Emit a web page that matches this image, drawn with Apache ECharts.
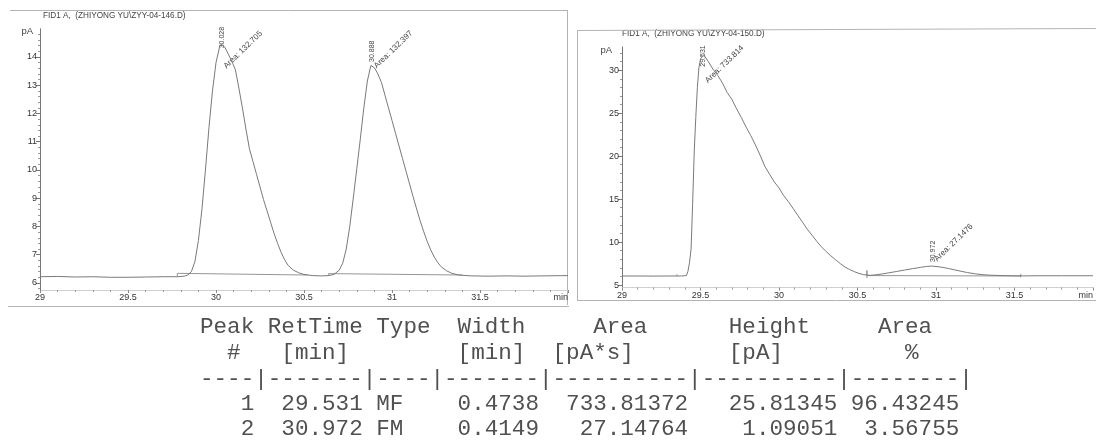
<!DOCTYPE html>
<html>
<head>
<meta charset="utf-8">
<script src="https://cdn.jsdelivr.net/npm/echarts@6/dist/echarts.min.js"></script>
<style>html,body{margin:0;padding:0;background:#fff;} #chart{width:1096px;height:442px;}</style>
</head>
<body>
<div id="chart"></div>
<script>
// ZYY-04-146.D  (racemic, two peaks)
var traceLeft = [[29.00,6.22],[29.10,6.23],[29.20,6.21],[29.30,6.22],[29.40,6.20],[29.50,6.20],[29.60,6.21],[29.70,6.22],[29.78,6.22],[29.82,6.24],[29.84,6.28],[29.86,6.4],[29.88,6.75],[29.90,7.5],[29.92,8.6],[29.94,10.0],[29.96,11.5],[29.98,12.8],[30.00,13.8],[30.02,14.35],[30.03,14.45],[30.05,14.35],[30.07,14.1],[30.09,13.85],[30.11,13.55],[30.13,12.9],[30.15,12.2],[30.17,11.45],[30.19,10.75],[30.21,10.3],[30.23,9.85],[30.25,9.4],[30.27,8.95],[30.29,8.55],[30.31,8.15],[30.33,7.75],[30.35,7.4],[30.37,7.08],[30.39,6.82],[30.41,6.62],[30.44,6.45],[30.47,6.36],[30.50,6.3],[30.55,6.26],[30.60,6.25],[30.64,6.26],[30.67,6.3],[30.70,6.45],[30.72,6.7],[30.74,7.2],[30.76,8.0],[30.78,9.0],[30.80,10.05],[30.82,11.1],[30.84,12.2],[30.86,13.15],[30.88,13.7],[30.90,13.62],[30.92,13.4],[30.94,13.1],[30.96,12.65],[30.98,12.2],[31.00,11.75],[31.02,11.3],[31.04,10.85],[31.06,10.4],[31.08,9.95],[31.10,9.5],[31.12,9.05],[31.14,8.62],[31.16,8.2],[31.18,7.82],[31.20,7.47],[31.22,7.17],[31.24,6.92],[31.26,6.72],[31.28,6.57],[31.31,6.43],[31.34,6.34],[31.38,6.28],[31.45,6.25],[31.55,6.24],[31.65,6.25],[31.75,6.24],[31.85,6.25],[32.00,6.26]];
var baseLeft1 = [[29.78,6.22],[29.78,6.34],[30.52,6.28]];
var baseLeft2 = [[30.64,6.25],[30.64,6.33],[31.40,6.28]];
var peakRtLeft = [30.028, 30.888];
var peakTopLeft = [14.45, 13.7];
var peakAreaLeft = ['132.705', '132.397'];

// ZYY-04-150.D
var traceRight = [[29.00,6.05],[29.10,6.05],[29.20,6.04],[29.30,6.05],[29.38,6.05],[29.41,6.1],[29.42,6.6],[29.43,7.6],[29.44,9.2],[29.45,14.5],[29.46,20.5],[29.47,24.5],[29.48,28.0],[29.49,30.3],[29.50,31.3],[29.52,31.8],[29.53,31.8],[29.55,31.0],[29.58,30.1],[29.61,29.4],[29.64,28.5],[29.67,27.4],[29.70,26.6],[29.73,25.5],[29.76,24.5],[29.79,23.4],[29.82,22.4],[29.85,21.3],[29.88,20.1],[29.91,18.8],[29.94,17.9],[29.97,17.0],[30.00,16.3],[30.03,15.4],[30.06,14.7],[30.09,13.9],[30.12,13.1],[30.15,12.3],[30.18,11.5],[30.21,10.8],[30.24,10.1],[30.27,9.45],[30.30,8.9],[30.33,8.4],[30.36,7.95],[30.39,7.5],[30.42,7.1],[30.45,6.8],[30.48,6.55],[30.51,6.35],[30.54,6.2],[30.58,6.12],[30.62,6.2],[30.66,6.3],[30.70,6.42],[30.75,6.58],[30.80,6.74],[30.85,6.9],[30.90,7.05],[30.94,7.16],[30.97,7.2],[31.00,7.16],[31.04,7.06],[31.08,6.92],[31.12,6.76],[31.16,6.6],[31.20,6.45],[31.25,6.3],[31.30,6.2],[31.35,6.14],[31.42,6.1],[31.50,6.07],[31.56,6.06],[31.65,6.08],[31.80,6.08],[32.00,6.08]];
var baseRight1 = [[29.35,6.05],[29.35,6.25]];
var baseRight2 = [[30.56,5.8],[30.56,6.7],[30.56,6.1],[31.54,6.05]];
var baseRight3 = [[31.54,5.9],[31.54,6.3]];
var peakRtRight = [29.531, 30.972];
var peakTopRight = [31.8, 7.2];
var peakAreaRight = ['733.814', '27.1476'];

var yTicksLeft = [6, 7, 8, 9, 10, 11, 12, 13, 14];
var yTicksRight = [5, 10, 15, 20, 25, 30];

var tableRows = [
    'Peak RetTime Type  Width     Area      Height     Area',
    '  #   [min]        [min]  [pA*s]       [pA]         %',
    '----|-------|----|-------|----------|----------|--------|',
    '   1  29.531 MF    0.4738  733.81372   25.81345 96.43245',
    '   2  30.972 FM    0.4149   27.14764    1.09051  3.56755'
];

var yMinorLeft = [];
for (var i = 29; i <= 75; i++) { if (i % 5 != 0) yMinorLeft.push(i / 5); }
var yMinorRight = [];
for (var j = 5; j <= 32; j++) { if (j % 5 != 0) yMinorRight.push(j); }

var LINE = '#7a7a7a';
var FONT = '"Liberation Sans", Arial, sans-serif';

function fmtX(v) { return v >= 32 ? 'min' : String(v); }

function xAxisOf(g) {
    return {gridIndex: g, type: 'value', min: 29, max: 32, interval: 0.5,
        axisLine: {show: true, onZero: false, lineStyle: {color: '#d0d0d0'}},
        axisTick: {show: true, length: 3, lineStyle: {color: '#888'}},
        minorTick: {show: true, splitNumber: 5, length: 2, lineStyle: {color: '#999'}},
        splitLine: {show: false},
        axisLabel: {fontSize: 9, fontFamily: FONT, color: '#333', margin: 3, formatter: fmtX, showMinLabel: true, showMaxLabel: true, alignMaxLabel: 'right'}};
}
function yAxisOf(g, mn, mx, ticks) {
    return {gridIndex: g, type: 'value', min: mn, max: mx, position: 'left',
        axisLine: {show: true, onZero: false, lineStyle: {color: '#777'}},
        axisTick: {show: true, length: 4, customValues: ticks, lineStyle: {color: '#777'}},
        axisLabel: {customValues: ticks, fontSize: 9, fontFamily: FONT, color: '#333', margin: 3},
        splitLine: {show: false}};
}
function yMinorOf(g, mn, mx, ticks) {
    return {gridIndex: g, type: 'value', min: mn, max: mx, position: 'left',
        axisLine: {show: false}, axisLabel: {show: false}, splitLine: {show: false},
        axisTick: {show: true, length: 2, customValues: ticks, lineStyle: {color: '#999'}}};
}
function lineOf(g, yi, data, w) {
    return {type: 'line', xAxisIndex: g, yAxisIndex: yi, data: data, symbol: 'none', silent: true,
        lineStyle: {color: LINE, width: w}};
}

var myChart = echarts.init(document.getElementById('chart'));

option = {
    animation: false,
    backgroundColor: '#fff',
    grid: [
        {left: 40, right: 528, top: 28.75, bottom: 152},
        {left: 622, right: -8, top: 47, bottom: 154.4}
    ],
    xAxis: [xAxisOf(0), xAxisOf(1)],
    yAxis: [yAxisOf(0, 5.75, 15, yTicksLeft), yMinorOf(0, 5.75, 15, yMinorLeft),
        yAxisOf(1, 4.7, 32.7, yTicksRight), yMinorOf(1, 4.7, 32.7, yMinorRight)],
    series: [
        lineOf(0, 0, traceLeft, 1), lineOf(0, 0, baseLeft1, 0.8), lineOf(0, 0, baseLeft2, 0.8),
        lineOf(1, 2, traceRight, 1), lineOf(1, 2, baseRight1, 0.8), lineOf(1, 2, baseRight2, 0.8), lineOf(1, 2, baseRight3, 0.8)
    ]
};
myChart.setOption(option);

// annotations, placed from the data through the axes
var graphics = [];
function txt(x, y, s, font, rot, align, fill) {
    graphics.push({type: 'text', x: x, y: y, rotation: rot || 0, silent: true,
        style: {text: s, font: font, fill: fill || '#444', textAlign: align || 'left', align: align || 'left', textVerticalAlign: 'middle', verticalAlign: 'middle'}});
}
function seg(x1, y1, x2, y2) {
    graphics.push({type: 'line', silent: true, shape: {x1: x1, y1: y1, x2: x2, y2: y2}, style: {stroke: '#b4b4b4', lineWidth: 1}});
}

var labelOffsets = [[1, 4, 4, 23], [0, -3.5, 3, 1.5], [-2, 12, 1, 27], [1, -4, 4, -6]];
var peaks = [];
for (var a = 0; a < 2; a++) peaks.push({g: 0, rt: peakRtLeft[a], top: peakTopLeft[a], area: peakAreaLeft[a]});
for (var b = 0; b < 2; b++) peaks.push({g: 1, rt: peakRtRight[b], top: peakTopRight[b], area: peakAreaRight[b]});
peaks.forEach(function (p, k) {
    var pt = myChart.convertToPixel({gridIndex: p.g}, [p.rt, p.top]);
    var o = labelOffsets[k];
    txt(pt[0] + o[0], pt[1] + o[1], p.rt.toFixed(3), '7px ' + FONT, Math.PI / 2);
    txt(pt[0] + o[2], pt[1] + o[3], 'Area: ' + p.area, '8px ' + FONT, 44 * Math.PI / 180);
});

var pa0 = myChart.convertToPixel({gridIndex: 0}, [29, 15]);
txt(pa0[0] - 7, pa0[1] + 3, 'pA', '9.5px ' + FONT, 0, 'right');
var pa1 = myChart.convertToPixel({gridIndex: 1}, [29, 32.7]);
txt(pa1[0] - 10, pa1[1] + 3, 'pA', '9.5px ' + FONT, 0, 'right');

txt(43, 16, 'FID1 A,  (ZHIYONG YU\\ZYY-04-146.D)', '8.2px ' + FONT);
txt(622, 34, 'FID1 A,  (ZHIYONG YU\\ZYY-04-150.D)', '8.2px ' + FONT);

// scanned frame lines
seg(10, 10.5, 567, 10.5); seg(567.5, 10, 567.5, 305); seg(8, 306.5, 569, 306.5);
seg(577.5, 30, 577.5, 300); seg(577, 30.5, 1096, 28.5); seg(577, 300.5, 1096, 300.5);

var rowY = [327, 353, 379, 404, 429];
tableRows.forEach(function (r, k) {
    txt(200, rowY[k], r, '22.6px "Liberation Mono", "Courier New", monospace', 0, 'left', '#505050');
});

myChart.setOption({graphic: graphics});
</script>
</body>
</html>
